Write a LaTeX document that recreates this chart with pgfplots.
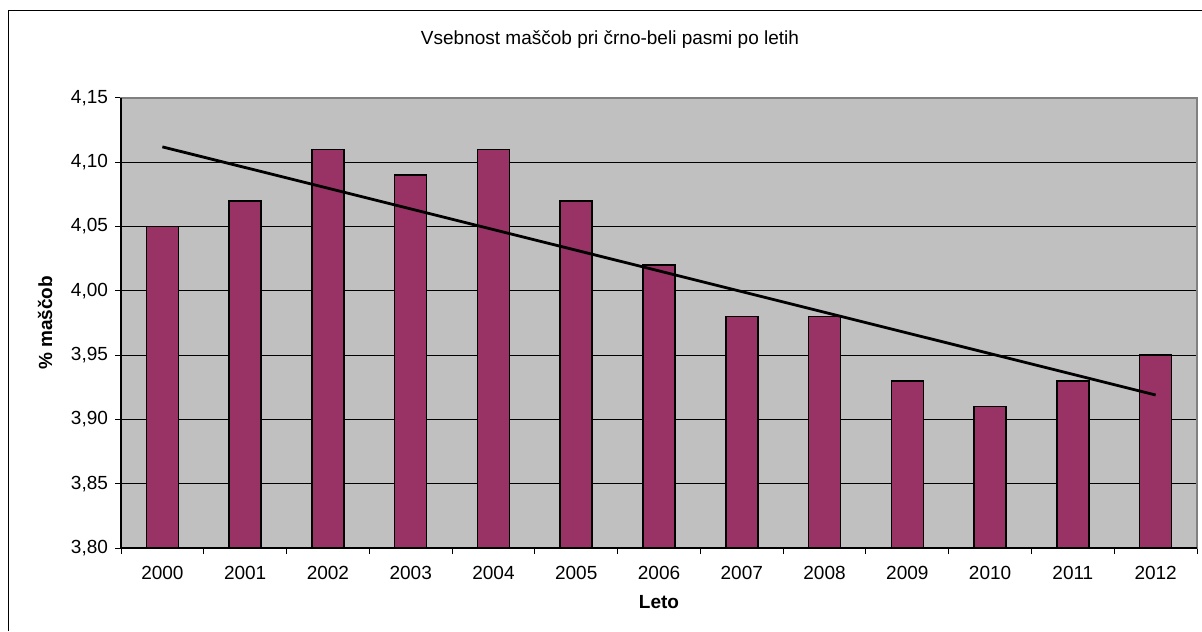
\documentclass[border=0pt]{standalone}
\usepackage{pgfplots}
\pgfplotsset{compat=1.18}
\usepackage{fontspec}
\setmainfont{Liberation Sans}
\definecolor{barc}{HTML}{993366}
\definecolor{plotbg}{HTML}{C0C0C0}
\definecolor{frame}{HTML}{808080}
\begin{document}
\begin{tikzpicture}
\useasboundingbox (0,0) rectangle (601pt,315.5pt);
\draw[line width=0.7pt] (4.25pt,0) -- (4.25pt,310.25pt) -- (601pt,310.25pt);
\node[font=\fontsize{9.5}{11}\selectfont] at (305pt,295.5pt) {Vsebnost maščob pri črno-beli pasmi po letih};
\begin{axis}[
  at={(60.5pt,41.5pt)}, anchor=south west,
  scale only axis, width=538pt, height=225pt,
  xmin=-0.5, xmax=12.5, ymin=3.8, ymax=4.15,
  axis background/.style={fill=plotbg},
  axis line style={draw=frame, line width=0.7pt},
  ytick={3.8,3.85,3.9,3.95,4.0,4.05,4.1,4.15},
  yticklabel style={/pgf/number format/.cd, use comma, fixed, fixed zerofill, precision=2},
  ymajorgrids, major grid style={black, line width=0.5pt},
  tick align=outside, tick pos=left,
  major tick length=3pt, minor tick length=3pt,
  tick style={black, line width=0.5pt},
  xtick={0,...,12},
  xticklabels={2000,2001,2002,2003,2004,2005,2006,2007,2008,2009,2010,2011,2012},
  major x tick style={draw=none},
  minor xtick={-0.5,0.5,...,12.5},
  ticklabel style={font=\fontsize{9.5}{11}\selectfont},
  xticklabel style={yshift=-2.5pt},
  /pgf/number format/assume math mode=true,
  clip=false,
]
\addplot[ybar, bar width=16pt, fill=barc, draw=black, line width=0.8pt] coordinates {
(0,4.05) (1,4.07) (2,4.11) (3,4.09) (4,4.11) (5,4.07) (6,4.02) (7,3.98) (8,3.98) (9,3.93) (10,3.91) (11,3.93) (12,3.95)};
\addplot[black, line width=1.4pt, sharp plot, no marks] coordinates {(0,4.112) (12,3.919)};
\draw[black, line width=0.7pt] (rel axis cs:0,1) -- (rel axis cs:0,0) -- (rel axis cs:1,0);
\end{axis}
\node[font=\fontsize{9.5}{11}\selectfont\bfseries, rotate=90] at (22.5pt,154pt) {\% maščob};
\node[font=\fontsize{9.5}{11}\selectfont\bfseries] at (329.5pt,14.5pt) {Leto};
\end{tikzpicture}
\end{document}
